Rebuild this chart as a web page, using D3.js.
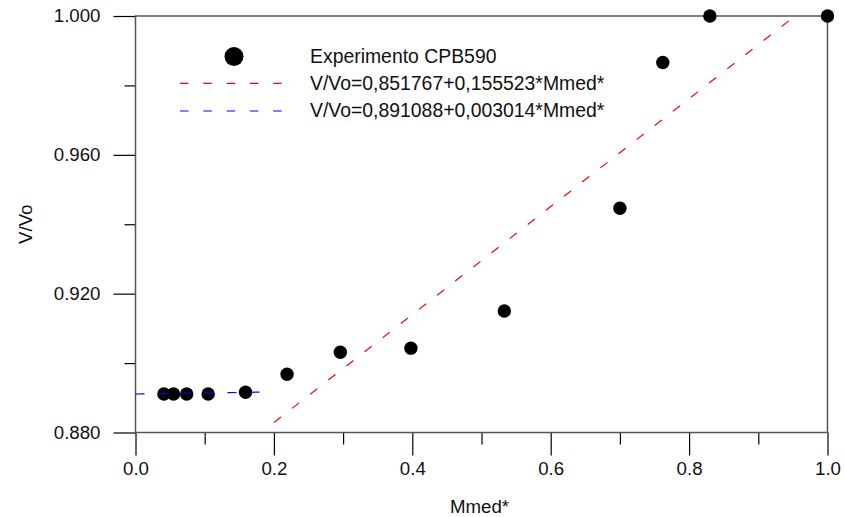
<!DOCTYPE html>
<html>
<head>
<meta charset="utf-8">
<script src="https://cdn.jsdelivr.net/npm/d3@7/dist/d3.min.js"></script>
<style>
  html, body { margin: 0; padding: 0; background: #fff; }
  svg { display: block; font-family: "Liberation Sans", Arial, Helvetica, sans-serif; }
</style>
</head>
<body>
<svg id="chart" width="844" height="517"></svg>
<script>
// Measured points: normalised mass vs. volume ratio
const mmed = [0.041, 0.055, 0.074, 0.105, 0.159, 0.219, 0.296, 0.398, 0.533, 0.700, 0.762, 0.830, 1.000];
const vvo  = [0.8911, 0.8911, 0.8911, 0.8911, 0.8916, 0.8968, 0.9031, 0.9043, 0.9150, 0.9446, 0.9866, 1.0000, 1.0000];

// Linear fits: V/Vo = a + b * Mmed*
const fitA = { a: 0.851767, b: 0.155523, from: 0.2, to: 0.9531, color: "#ff0000" };
const fitB = { a: 0.891088, b: 0.003014, from: 0.0, to: 0.183, color: "#0000ff" };

const xMajor = [0.0, 0.2, 0.4, 0.6, 0.8, 1.0];
const xMinor = [0.1, 0.3, 0.5, 0.7, 0.9];
const yMajor = [0.880, 0.920, 0.960, 1.000];
const yMinor = [0.900, 0.940, 0.980];

const legendLabels = [
  "Experimento CPB590",
  "V/Vo=0,851767+0,155523*Mmed*",
  "V/Vo=0,891088+0,003014*Mmed*"
];

const svg = d3.select("#chart");
const x = d3.scaleLinear().domain([0, 1]).range([135.5, 827.5]);
const y = d3.scaleLinear().domain([0.88, 1.0]).range([432.5, 16]);

const fontSize = 18.7;

// axes: long outward major ticks, short minor ticks
const xAxisMajor = d3.axisBottom(x).tickValues(xMajor).tickFormat(d3.format(".1f"))
  .tickSize(23).tickPadding(6).tickSizeOuter(0);
const xAxisMinor = d3.axisBottom(x).tickValues(xMinor).tickFormat("").tickSize(12).tickSizeOuter(0);
const yAxisMajor = d3.axisLeft(y).tickValues(yMajor).tickFormat(d3.format(".3f"))
  .tickSize(22).tickPadding(13).tickSizeOuter(0);
const yAxisMinor = d3.axisLeft(y).tickValues(yMinor).tickFormat("").tickSize(11).tickSizeOuter(0);

function styleAxis(g) {
  g.select(".domain").remove();
  g.selectAll(".tick line").attr("stroke", "#000").attr("stroke-width", 1.2);
  g.selectAll(".tick text").attr("font-size", fontSize).attr("fill", "#111")
    .attr("font-family", "'Liberation Sans', Arial, sans-serif");
}

svg.append("g").attr("transform", `translate(0,${y(0.88)})`).call(xAxisMajor).call(styleAxis);
svg.append("g").attr("transform", `translate(0,${y(0.88)})`).call(xAxisMinor).call(styleAxis);
svg.append("g").attr("transform", `translate(${x(0)},0)`).call(yAxisMajor).call(styleAxis);
svg.append("g").attr("transform", `translate(${x(0)},0)`).call(yAxisMinor).call(styleAxis);

// plot frame
svg.append("rect")
  .attr("x", x(0)).attr("y", y(1.0))
  .attr("width", x(1) - x(0)).attr("height", y(0.88) - y(1.0))
  .attr("fill", "none").attr("stroke", "#555").attr("stroke-width", 1.5);

// axis titles
svg.append("text")
  .attr("x", (x(0) + x(1)) / 2 - 2).attr("y", 513)
  .attr("text-anchor", "middle").attr("font-size", fontSize).attr("fill", "#111")
  .text("Mmed*");
svg.append("text")
  .attr("transform", `translate(32,${(y(0.88) + y(1.0)) / 2}) rotate(-90)`)
  .attr("text-anchor", "middle").attr("font-size", fontSize).attr("fill", "#111")
  .text("V/Vo");

// experimental points
const pts = mmed.map((m, i) => ({ m, v: vvo[i] }));
svg.append("g").selectAll("circle").data(pts).join("circle")
  .attr("cx", d => x(d.m)).attr("cy", d => y(d.v))
  .attr("r", 6.7).attr("fill", "#000");

// fitted lines
const line = d3.line().x(d => x(d[0])).y(d => y(d[1]));
[fitA, fitB].forEach(f => {
  svg.append("path")
    .attr("d", line([[f.from, f.a + f.b * f.from], [f.to, f.a + f.b * f.to]]))
    .attr("fill", "none").attr("stroke", f.color)
    .attr("stroke-width", 1.2).attr("stroke-dasharray", "9,14");
});

// legend
const lg = svg.append("g");
lg.append("circle").attr("cx", 234).attr("cy", 56.5).attr("r", 9.5).attr("fill", "#000");
[fitA, fitB].forEach((f, i) => {
  const ly = 83.3 + i * 27.7;
  lg.append("line").attr("x1", 180).attr("x2", 283).attr("y1", ly).attr("y2", ly)
    .attr("stroke", f.color).attr("stroke-width", 1.2).attr("stroke-dasharray", "8.5,14.8");
});
lg.selectAll("text.lbl").data(legendLabels).join("text")
  .attr("class", "lbl")
  .attr("x", 310).attr("y", (d, i) => 62.8 + i * 27.3)
  .attr("font-size", 19.4).attr("fill", "#111")
  .text(d => d);
</script>
</body>
</html>
